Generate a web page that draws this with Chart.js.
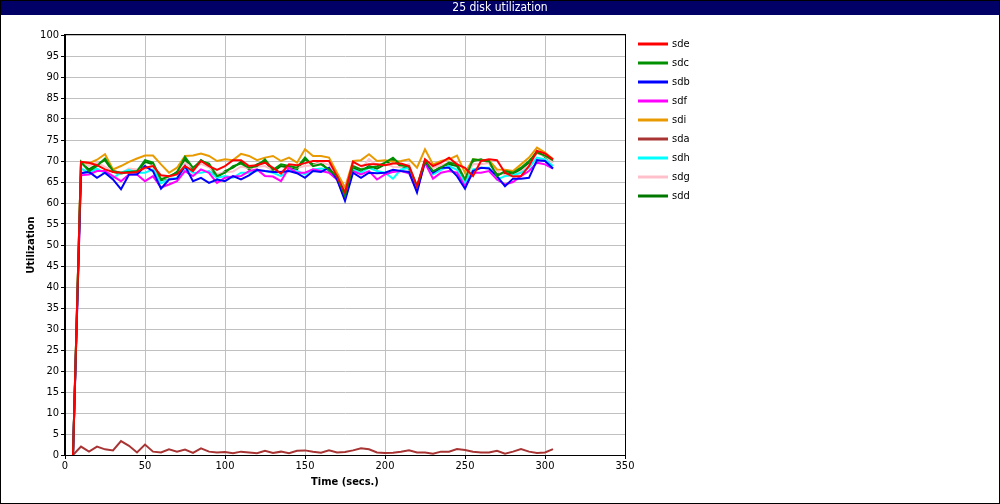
<!DOCTYPE html>
<html>
<head>
<meta charset="utf-8">
<script src="https://cdn.jsdelivr.net/npm/chart.js@4.4.1/dist/chart.umd.min.js"></script>
<style>
  body { margin: 0; background: #fff; }
  #wrap { width: 1000px; height: 504px; position: relative; }
</style>
</head>
<body>
<div id="wrap"><canvas id="diskChart" width="1000" height="504"></canvas></div>
<script>
// sample times (secs.)
const times = [5, 10, 15, 20, 25, 30, 35, 40, 45, 50, 55, 60, 65, 70, 75, 80,
  85, 90, 95, 100, 105, 110, 115, 120, 125, 130, 135, 140, 145, 150, 155,
  160, 165, 170, 175, 180, 185, 190, 195, 200, 205, 210, 215, 220, 225, 230, 235,
  240, 245, 250, 255, 260, 265, 270, 275, 280, 285, 290, 295, 300, 305];

const sde = [0, 69.8, 69.6, 69.0, 68.0, 67.4, 67.2, 67.2, 67.4, 68.4, 68.8, 66.6, 66.4, 66.8, 68.8, 67.6,
  70.0, 68.8, 67.9, 68.8, 70.2, 70.2, 68.8, 69.0, 69.6, 68.4, 67.0, 69.2, 69.0, 69.5, 70.0,
  70.0, 70.0, 66.4, 62.5, 69.8, 68.8, 69.2, 69.2, 69.0, 69.4, 69.4, 68.8, 64.0, 70.4, 68.8, 69.6,
  70.8, 69.2, 68.4, 66.4, 70.0, 70.4, 70.2, 67.2, 66.3, 66.4, 68.8, 72.4, 71.8, 70.4];
const sdc = [0, 69.8, 67.6, 68.8, 70.6, 67.6, 67.2, 67.4, 67.6, 70.2, 69.6, 65.6, 66.4, 67.2, 71.0, 68.4,
  70.0, 69.4, 66.4, 67.2, 68.8, 69.4, 68.4, 68.8, 70.4, 67.9, 69.2, 68.8, 68.4, 70.8, 68.8,
  69.2, 68.0, 66.4, 61.7, 68.8, 68.0, 68.4, 68.7, 69.6, 70.8, 69.0, 68.7, 64.0, 70.0, 67.6, 68.4,
  69.6, 69.2, 65.6, 70.4, 70.2, 70.0, 66.4, 67.6, 67.2, 68.4, 70.0, 72.0, 71.3, 70.2];
const sdb = [0, 67.1, 67.4, 66.0, 67.2, 65.6, 63.3, 66.8, 66.8, 68.8, 67.6, 63.4, 65.6, 65.8, 68.8, 65.2,
  66.0, 64.8, 65.6, 65.2, 66.4, 65.6, 66.6, 67.9, 67.6, 67.4, 67.4, 67.6, 67.1, 66.0, 67.6,
  67.4, 68.4, 65.6, 60.5, 67.2, 66.0, 67.2, 67.1, 67.2, 67.9, 67.6, 67.4, 62.5, 70.0, 67.2, 68.4,
  68.4, 66.4, 63.4, 67.6, 68.4, 68.2, 66.4, 64.0, 65.8, 65.8, 66.0, 70.2, 70.0, 68.2];
const sdf = [0, 66.6, 66.8, 67.6, 67.6, 66.4, 65.2, 66.8, 66.8, 65.2, 66.4, 63.7, 64.4, 65.2, 67.6, 66.4,
  68.0, 67.2, 64.8, 66.0, 66.3, 66.4, 67.6, 68.0, 66.4, 66.3, 65.2, 68.4, 67.2, 67.2, 68.0,
  67.6, 67.2, 65.6, 60.9, 67.6, 66.8, 67.6, 65.6, 66.8, 67.4, 67.6, 67.1, 62.9, 69.6, 65.8, 67.2,
  67.6, 67.2, 64.0, 67.2, 67.2, 67.6, 65.6, 64.4, 65.0, 66.4, 67.6, 69.6, 69.2, 68.2];
const sdi = [0, 69.8, 69.4, 70.3, 71.6, 68.0, 68.8, 69.8, 70.6, 71.3, 71.3, 69.2, 67.2, 68.4, 71.2, 71.3,
  71.8, 71.2, 70.0, 70.4, 70.2, 71.7, 71.2, 70.2, 70.8, 71.2, 70.0, 70.8, 69.6, 72.8, 71.2,
  71.2, 70.8, 67.2, 63.7, 70.0, 70.2, 71.6, 70.0, 70.2, 69.8, 70.0, 70.4, 68.4, 72.8, 69.2, 70.0,
  70.4, 71.3, 67.2, 70.4, 70.2, 70.2, 68.0, 67.9, 67.6, 69.2, 70.8, 73.2, 72.0, 70.4];
const sda = [0, 2.0, 0.8, 2.0, 1.35, 1.1, 3.3, 2.2, 0.6, 2.5, 0.8, 0.6, 1.35, 0.8, 1.3, 0.5,
  1.6, 0.8, 0.6, 0.7, 0.4, 0.8, 0.6, 0.4, 1.0, 0.5, 0.8, 0.4, 1.0, 1.1, 0.8,
  0.55, 1.1, 0.6, 0.7, 1.1, 1.6, 1.35, 0.6, 0.5, 0.55, 0.8, 1.1, 0.6, 0.6, 0.3, 0.8,
  0.8, 1.4, 1.2, 0.8, 0.6, 0.6, 1.0, 0.3, 0.8, 1.4, 0.8, 0.5, 0.6, 1.4];
const sdh = [0, 68.2, 67.2, 68.2, 67.1, 66.0, 67.2, 67.9, 67.2, 67.2, 68.0, 64.7, 65.6, 66.0, 68.4, 67.2,
  67.2, 67.6, 66.0, 66.4, 66.0, 67.2, 67.2, 67.6, 67.6, 67.2, 66.4, 68.0, 67.6, 66.8, 68.0,
  68.2, 68.0, 66.0, 61.3, 67.9, 67.2, 68.4, 67.6, 67.2, 65.8, 68.0, 68.4, 63.3, 69.8, 66.8, 67.9,
  68.8, 67.9, 64.8, 68.0, 68.4, 68.4, 65.6, 66.4, 66.6, 67.2, 68.4, 70.8, 70.4, 68.8];
const sdg = [0, 69.5, 68.8, 69.6, 68.6, 67.8, 67.0, 68.2, 68.0, 68.0, 69.0, 65.8, 65.9, 66.9, 69.5, 68.4,
  69.3, 68.5, 66.9, 67.3, 67.5, 68.7, 68.3, 68.6, 68.8, 67.8, 67.4, 68.8, 68.4, 68.8, 69.0,
  69.7, 69.1, 66.2, 62.0, 69.0, 68.0, 70.5, 68.8, 69.5, 68.6, 68.5, 69.3, 63.8, 70.3, 68.3, 69.0,
  69.5, 69.7, 65.6, 69.3, 69.2, 69.5, 67.6, 66.6, 66.5, 67.5, 69.0, 71.8, 71.2, 69.6];
const sdd = [0, 69.6, 68.0, 69.2, 70.2, 67.4, 67.0, 67.6, 67.2, 69.8, 69.2, 65.4, 66.0, 67.4, 70.4, 68.0,
  70.2, 69.0, 66.0, 67.6, 68.4, 69.8, 68.0, 69.2, 70.0, 67.4, 68.8, 68.4, 68.0, 70.4, 69.2,
  69.6, 67.6, 66.0, 61.5, 68.4, 67.6, 68.8, 68.2, 69.2, 70.4, 68.6, 68.2, 63.6, 70.2, 67.2, 68.8,
  69.2, 68.8, 65.2, 70.0, 70.4, 69.6, 66.8, 67.2, 66.8, 68.0, 69.6, 72.4, 71.0, 69.8];

const diskNames = ['sde', 'sdc', 'sdb', 'sdf', 'sdi', 'sda', 'sdh', 'sdg', 'sdd'];
const diskValues = [sde, sdc, sdb, sdf, sdi, sda, sdh, sdg, sdd];
const diskColors = ['#ff0000', '#009000', '#0000ff', '#ff00ff', '#e89a00', '#a83434', '#00ffff', '#ffc0cb', '#007800'];

const FONT = "'Liberation Sans Narrow', 'DejaVu Sans Condensed', 'Liberation Sans', sans-serif";

// frame, title bar, axis titles and legend
const decorations = {
  id: 'decorations',
  beforeDraw(chart) {
    const c = chart.ctx;
    c.save();
    c.fillStyle = '#000066';
    c.fillRect(0, 0, 1000, 15);
    c.fillStyle = '#ffffff';
    c.font = '12px ' + FONT;
    c.textAlign = 'center';
    c.textBaseline = 'middle';
    c.fillText('25 disk utilization', 500, 8);
    c.restore();
  },
  afterDraw(chart) {
    const c = chart.ctx;
    const a = chart.chartArea;
    c.save();
    c.strokeStyle = '#000';
    c.lineWidth = 1;
    c.strokeRect(a.left - 0.5, a.top - 0.5, a.right - a.left + 1, a.bottom - a.top + 1);
    c.strokeRect(0.5, 0.5, 999, 503);

    c.fillStyle = '#000';
    c.font = 'bold 11px ' + FONT;
    c.textAlign = 'center';
    c.textBaseline = 'middle';
    c.fillText('Time (secs.)', 345, 482);
    c.translate(31, 245);
    c.rotate(-Math.PI / 2);
    c.fillText('Utilization', 0, 0);
    c.restore();

    // legend
    c.save();
    c.font = '11px ' + FONT;
    c.textBaseline = 'middle';
    c.textAlign = 'left';
    chart.data.datasets.forEach((ds, i) => {
      const y = 44 + i * 19;
      c.strokeStyle = ds.borderColor;
      c.lineWidth = 3;
      c.beginPath();
      c.moveTo(638, y);
      c.lineTo(668, y);
      c.stroke();
      c.fillStyle = '#000';
      c.fillText(ds.label, 672, y);
    });
    c.restore();
  }
};

const ctx = document.getElementById('diskChart').getContext('2d');
new Chart(ctx, {
  type: 'line',
  data: {
    datasets: diskNames.map((name, i) => ({
      label: name,
      data: times.map((t, j) => ({ x: t, y: diskValues[i][j] })),
      borderColor: diskColors[i],
      backgroundColor: diskColors[i],
      borderWidth: 2,
      pointRadius: 0,
      tension: 0,
      fill: false
    }))
  },
  options: {
    responsive: false,
    animation: false,
    events: [],
    layout: { padding: { top: 35, right: 375, left: 0, bottom: 0 } },
    plugins: {
      legend: { display: false },
      title: { display: false },
      tooltip: { enabled: false }
    },
    scales: {
      x: {
        type: 'linear',
        min: 0,
        max: 350,
        afterFit(scale) { scale.height = 49; },
        ticks: { stepSize: 50, color: '#000', font: { family: FONT, size: 11 }, padding: 1, maxRotation: 0 },
        grid: { color: '#c0c0c0', tickColor: '#000', tickLength: 4 },
        border: { color: '#000' }
      },
      y: {
        min: 0,
        max: 100,
        afterFit(scale) { scale.width = 65; },
        ticks: { stepSize: 5, color: '#000', font: { family: FONT, size: 11 }, padding: 2 },
        grid: { color: '#c0c0c0', tickColor: '#000', tickLength: 4 },
        border: { color: '#000' }
      }
    }
  },
  plugins: [decorations]
});
</script>
</body>
</html>
